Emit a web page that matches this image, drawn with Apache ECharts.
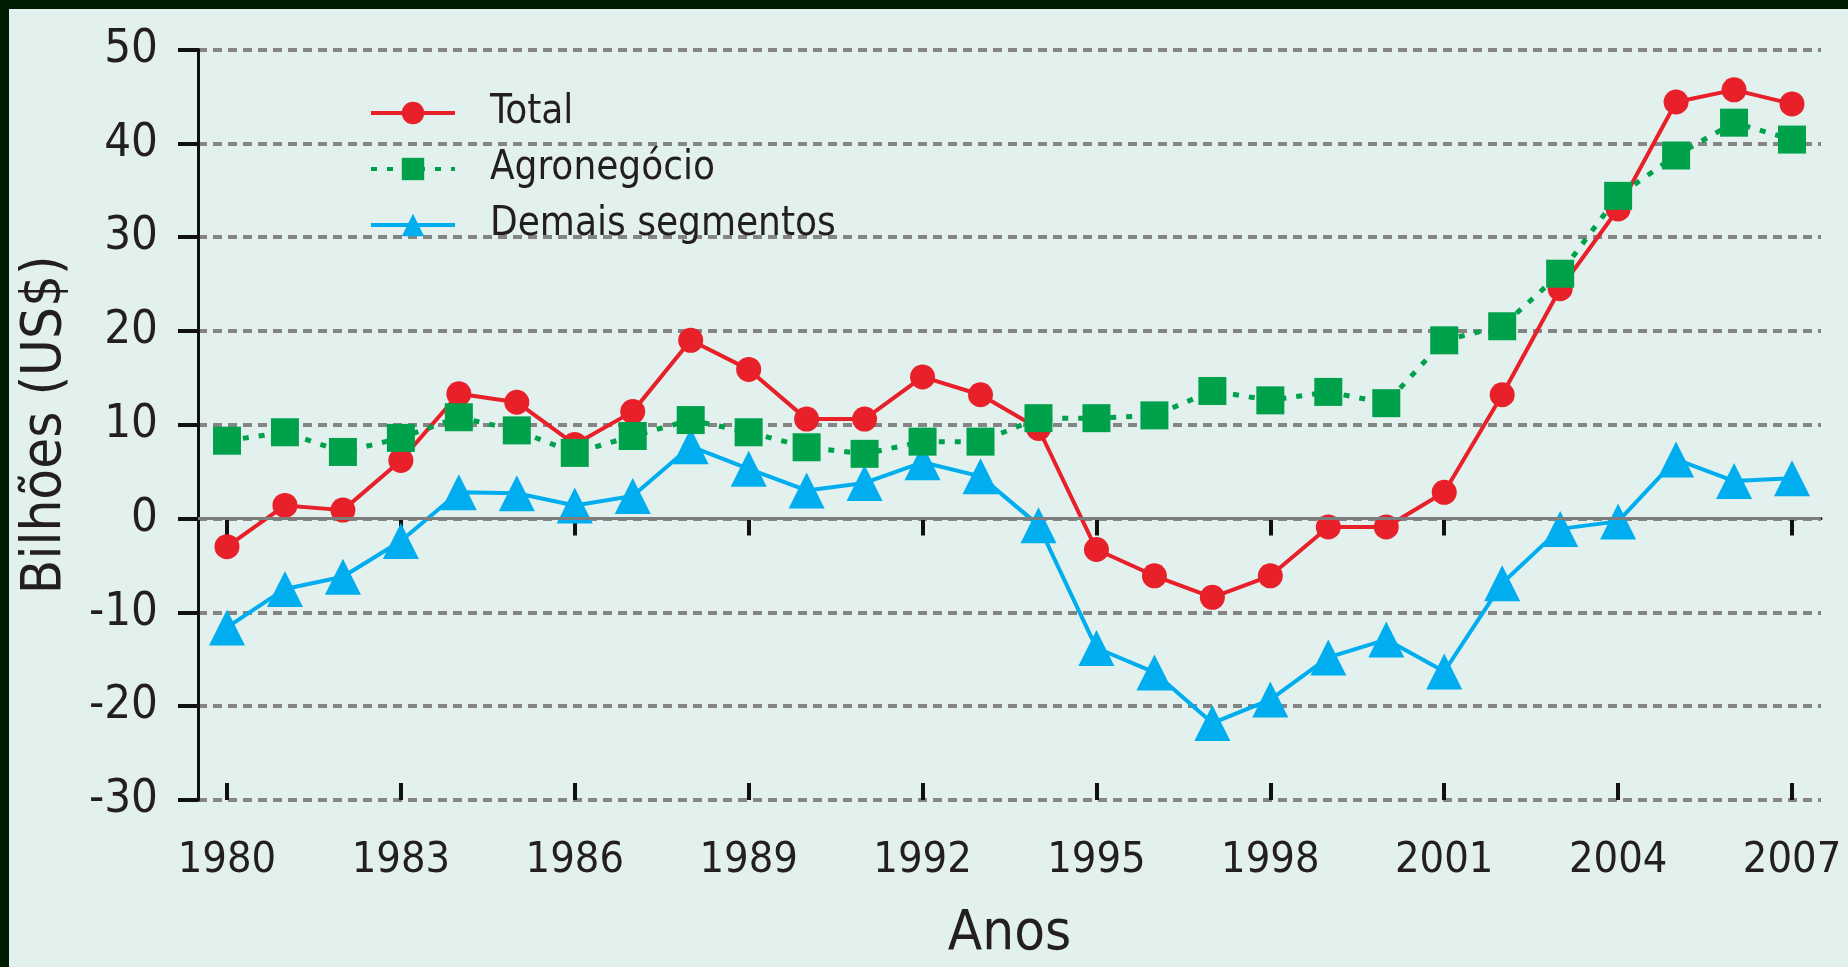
<!DOCTYPE html>
<html>
<head>
<meta charset="utf-8">
<title>Balança comercial</title>
<script src="https://cdn.jsdelivr.net/npm/echarts@6/dist/echarts.min.js"></script>
<style>
  html, body { margin: 0; padding: 0; background: #001c00; overflow: hidden; width: 1848px; height: 967px; }
  #chart { position: absolute; left: 9px; top: 9px; width: 1839px; height: 958px; }
</style>
</head>
<body>
<div id="chart"></div>
<script>
// anos
const years = ['1980', '1981', '1982', '1983', '1984', '1985', '1986', '1987', '1988', '1989',
  '1990', '1991', '1992', '1993', '1994', '1995', '1996', '1997', '1998', '1999',
  '2000', '2001', '2002', '2003', '2004', '2005', '2006', '2007']

// saldos em bilhões de US$
const total = [-3.0, 1.4, 0.9, 6.2, 13.3, 12.4, 7.9, 11.4, 19.0, 15.9,
  10.6, 10.6, 15.1, 13.2, 9.6, -3.3, -6.1, -8.4, -6.1, -0.9,
  -0.9, 2.8, 13.2, 24.5, 33.0, 44.4, 45.7, 44.2]
const agronegocio = [8.3, 9.2, 7.1, 8.6, 10.8, 9.4, 7.0, 8.8, 10.5, 9.2,
  7.6, 6.9, 8.2, 8.2, 10.7, 10.7, 11.0, 13.6, 12.6, 13.5,
  12.3, 19.0, 20.5, 26.1, 34.4, 38.7, 42.2, 40.4]
const demais = [-11.6, -7.5, -6.2, -2.4, 2.8, 2.7, 1.4, 2.4, 7.7, 5.3,
  3.0, 3.8, 6.0, 4.5, -0.7, -13.8, -16.4, -21.8, -19.3, -14.8,
  -12.9, -16.3, -6.9, -1.1, -0.3, 6.3, 4.0, 4.3]

const yMin = -30
const yMax = 50
const yStep = 10

const font = "'Liberation Sans Narrow', 'DejaVu Sans Condensed', sans-serif"
const ink = '#231f20'

const chart = echarts.init(document.getElementById('chart'), null, { renderer: 'canvas' })

const option = {
  backgroundColor: '#e2f1ee',
  animation: false,
  textStyle: { fontFamily: font, color: ink },
  legend: {
    orient: 'vertical',
    left: 355,
    top: 74,
    itemWidth: 84,
    itemHeight: 28,
    itemGap: 6,
    lineStyle: { width: 4 },
    textStyle: { fontFamily: font, fontSize: 40, color: ink, lineHeight: 50, padding: [0, 0, 0, 30] },
    data: ['Total', 'Agronegócio', 'Demais segmentos']
  },
  grid: { left: 189, top: 40.5, width: 1623, height: 755.5, containLabel: false },
  xAxis: [{
    type: 'category',
    data: years,
    boundaryGap: true,
    name: 'Anos',
    nameLocation: 'middle',
    nameGap: 106,
    nameTextStyle: { fontFamily: font, fontSize: 56, color: ink },
    axisLine: { lineStyle: { color: '#111', width: 3 } },
    axisTick: { show: true, alignWithLabel: true, interval: 2, length: 17, lineStyle: { color: '#111', width: 4 } },
    axisLabel: { interval: 2, margin: 39, fontFamily: font, fontSize: 43, color: ink },
    splitLine: { show: false }
  }, {
    // upper half of the crossing ticks
    type: 'category',
    data: years,
    boundaryGap: true,
    position: 'bottom',
    axisLine: { show: false },
    axisTick: { show: true, inside: true, alignWithLabel: true, interval: 2, length: 17, lineStyle: { color: '#111', width: 4 } },
    axisLabel: { show: false },
    splitLine: { show: false }
  }],
  yAxis: {
    type: 'value',
    min: yMin,
    max: yMax,
    interval: yStep,
    name: 'Bilhões (US$)',
    nameLocation: 'middle',
    nameRotate: 90,
    nameGap: 125,
    nameTextStyle: { fontFamily: font, fontSize: 56, color: ink },
    axisLine: { show: true, lineStyle: { color: '#111', width: 3 } },
    axisTick: { show: true, length: 20, lineStyle: { color: '#111', width: 4 } },
    axisLabel: { margin: 40, fontFamily: font, fontSize: 47, color: ink },
    splitLine: {
      show: true,
      lineStyle: { color: '#858585', width: 4, type: [9, 6] }
    }
  },
  series: [
    {
      name: 'Total',
      type: 'line',
      data: total,
      z: 3,
      symbol: 'circle',
      symbolSize: 25,
      lineStyle: { color: '#e8202a', width: 4 },
      itemStyle: { color: '#e8202a' },
      markLine: {
        silent: true,
        symbol: 'none',
        label: { show: false },
        lineStyle: { color: '#7d7d7d', width: 3, type: 'solid' },
        data: [{ yAxis: 0 }]
      }
    },
    {
      name: 'Agronegócio',
      type: 'line',
      data: agronegocio,
      z: 4,
      symbol: 'rect',
      symbolSize: 28,
      lineStyle: { color: '#00a14b', width: 5, type: [6, 10] },
      itemStyle: { color: '#00a14b' }
    },
    {
      name: 'Demais segmentos',
      type: 'line',
      data: demais,
      z: 2,
      symbol: 'triangle',
      symbolSize: 36,
      lineStyle: { color: '#00aeef', width: 4 },
      itemStyle: { color: '#00aeef' }
    }
  ]
}

chart.setOption(option)
window.addEventListener('resize', chart.resize)
</script>
</body>
</html>
